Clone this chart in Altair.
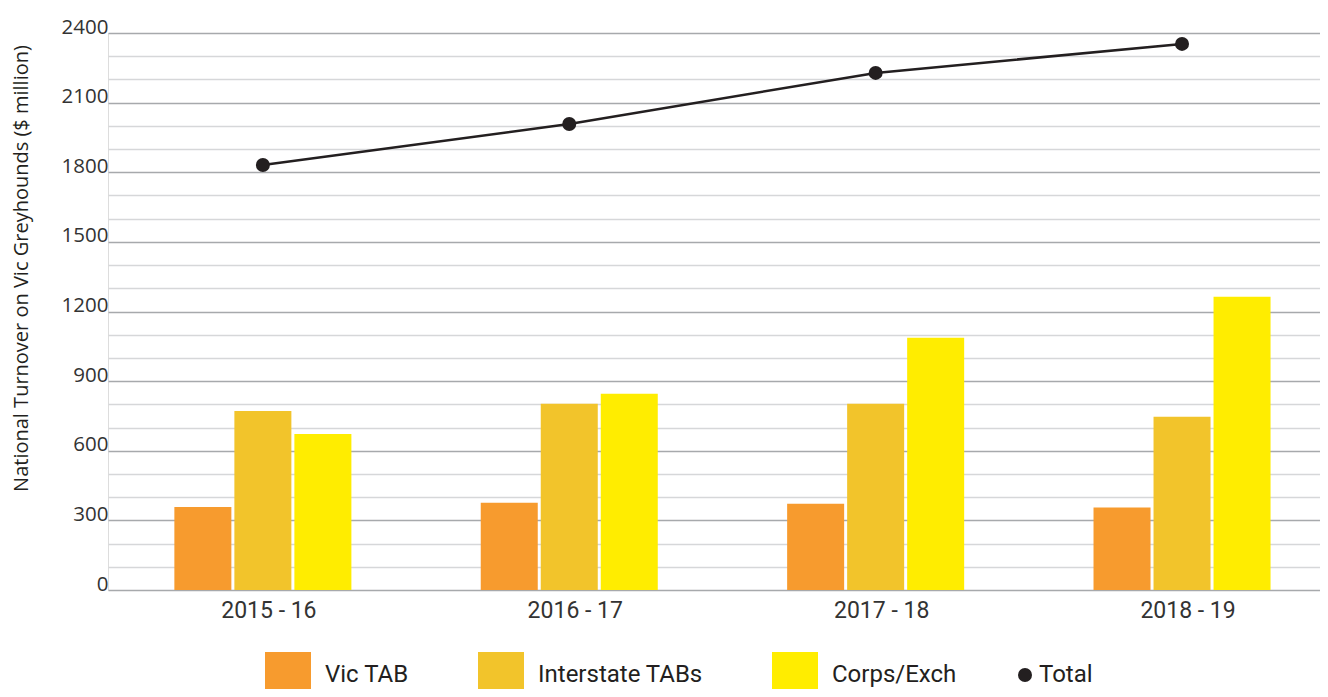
import altair as alt
import pandas as pd

years = ["2015 - 16", "2016 - 17", "2017 - 18", "2018 - 19"]
series_names = ["Vic TAB", "Interstate TABs", "Corps/Exch"]
vic_tab = [358, 376, 372, 355]
interstate_tabs = [771, 803, 803, 747]
corps_exch = [672, 846, 1087, 1264]
total = [1831, 2008, 2228, 2353]
bar_colors = ["#F79B2E", "#F2C42B", "#FFED00"]
total_color = "#231F20"

rows = []
for name, vals in zip(series_names, [vic_tab, interstate_tabs, corps_exch]):
    for y, v in zip(years, vals):
        rows.append({"year": y, "series": name, "value": v})
bars_df = pd.DataFrame(rows)
total_df = pd.DataFrame({"year": years, "value": total, "series": ["Total"] * len(years)})

W, H = 1212, 557

x_scale = alt.Scale(domain=years, paddingInner=0.4222, paddingOuter=0.189, align=0.573)
y_scale = alt.Scale(domain=[0, 2400], nice=False, zero=True)

x_axis = alt.Axis(
    title=None, ticks=False, domain=False, grid=False, labelAngle=0,
    labelFont="Roboto", labelFontSize=23, labelColor="#333333", labelPadding=9,
    labelOffset=6,
)
y_axis = alt.Axis(
    title="National Turnover on Vic Greyhounds ($ million)",
    values=list(range(0, 2401, 100)),
    labelExpr="datum.value % 300 === 0 ? datum.label : ''",
    format="d",
    labelOverlap=False,
    ticks=False, domain=False, grid=True,
    gridColor={"condition": {"test": "datum.value % 300 === 0", "value": "#A7A9AC"}, "value": "#D6D7D9"},
    gridWidth=1.3,
    labelFont="Open Sans", labelFontSize=20.5, labelColor="#333333",
    labelPadding=0, labelBaseline="alphabetic",
    titleFont="Open Sans", titleFontSize=20, titleFontWeight="normal", titleColor="#231F20",
    titleX=-77, titleY=235,
)

bars = alt.Chart(bars_df).mark_bar().encode(
    x=alt.X("year:N", scale=x_scale, axis=x_axis, sort=years),
    xOffset=alt.XOffset("series:N", sort=series_names, scale=alt.Scale(paddingInner=0.05, paddingOuter=0)),
    y=alt.Y("value:Q", scale=y_scale, axis=y_axis),
    color=alt.Color(
        "series:N",
        scale=alt.Scale(domain=series_names, range=bar_colors),
        title=None,
        legend=alt.Legend(
            orient="none", legendX=157, legendY=619, direction="horizontal",
            symbolType="square", symbolSize=2116, symbolStrokeWidth=0,
            labelFont="Roboto", labelFontSize=24, labelColor="#231F20",
            labelOffset=14, columnPadding=69, padding=0, labelLimit=400,
        ),
    ),
)

line = alt.Chart(total_df).mark_line(color=total_color, strokeWidth=2.5).encode(
    x=alt.X("year:N", sort=years, axis=x_axis),
    y=alt.Y("value:Q", axis=y_axis),
)

points = alt.Chart(total_df).mark_point(filled=True, size=196, opacity=1).encode(
    x=alt.X("year:N", sort=years, axis=x_axis),
    y=alt.Y("value:Q", axis=y_axis),
    fill=alt.Fill(
        "series:N",
        scale=alt.Scale(domain=["Total"], range=[total_color]),
        title=None,
        legend=alt.Legend(
            orient="none", legendX=905, legendY=630, direction="horizontal",
            symbolType="circle", symbolSize=196, symbolStrokeWidth=0,
            labelFont="Roboto", labelFontSize=24, labelColor="#231F20",
            labelOffset=2, padding=0, labelLimit=400,
        ),
    ),
)

chart = alt.layer(bars, line, points).properties(
    width=W, height=H,
    autosize=alt.AutoSizeParams(type="none"),
    padding={"left": 100, "top": 25, "right": 0, "bottom": 99},
).configure_view(stroke=None).configure_axisY(labelOverlap=False).configure(background="white")

chart.save("out.html", embed_options={"renderer": "svg", "actions": False})
